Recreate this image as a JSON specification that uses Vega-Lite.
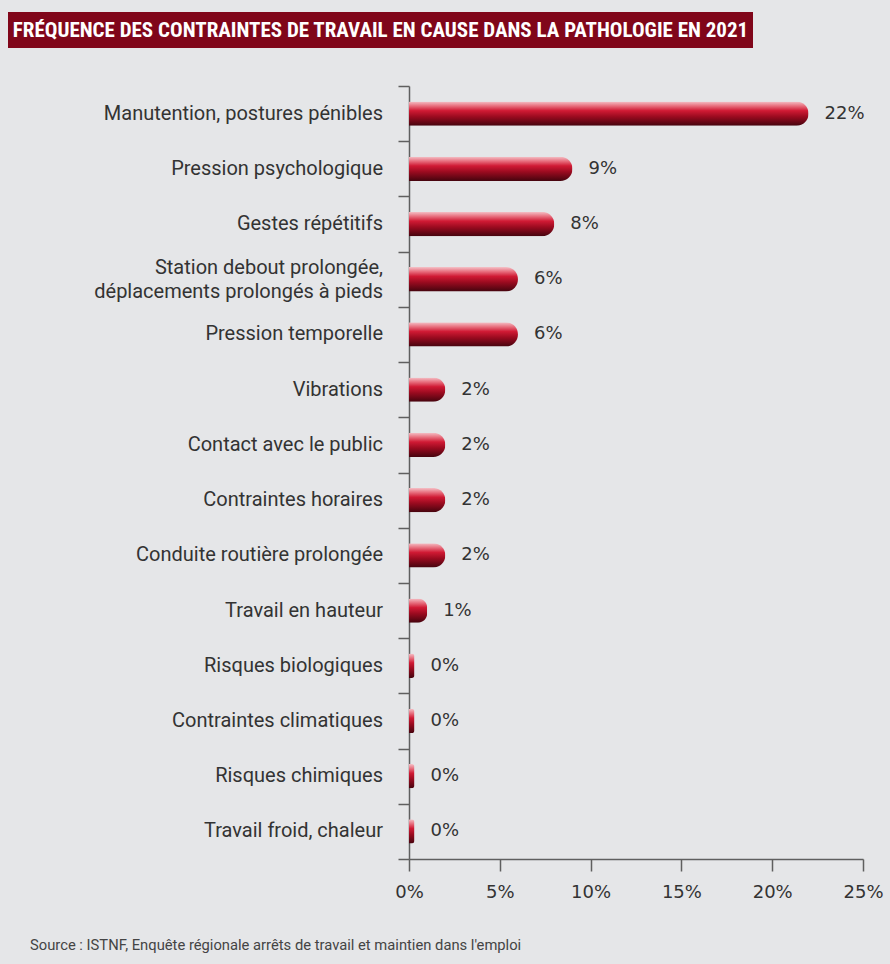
{
  "$schema": "https://vega.github.io/schema/vega-lite/v6.json",
  "background": "#e5e6e8",
  "padding": {"left": 8, "top": 12, "right": 6, "bottom": 20},
  "config": {"view": {"stroke": null}},
  "spacing": 32,
  "title": {
    "text": "Source : ISTNF, Enquête régionale arrêts de travail et maintien dans l'emploi",
    "orient": "bottom", "anchor": "start", "frame": "bounds", "dx": 22, "offset": 37,
    "font": "Roboto", "fontSize": 14.75, "fontWeight": "normal", "color": "#444444"
  },
  "vconcat": [
    {
      "width": 745, "height": 36,
      "view": {"fill": "#80061a", "stroke": null},
      "data": {"values": [{"t": "FRÉQUENCE DES CONTRAINTES DE TRAVAIL EN CAUSE DANS LA PATHOLOGIE EN 2021"}]},
      "mark": {"type": "text", "font": "Liberation Sans Narrow, Roboto Condensed, Roboto", "fontWeight": "bold", "fontSize": 21, "color": "#ffffff", "align": "center", "baseline": "middle", "dy": 1},
      "encoding": {"text": {"field": "t"}}
    },
    {
      "spacing": 0,
      "hconcat": [
        {
          "width": 1, "height": 1,
          "data": {"values": [{}]},
          "mark": {"type": "text"},
          "encoding": {"text": {"value": ""}}
        },
        {
          "width": 454, "height": 773,
          "data": {"values": [
            {"cat": "Manutention, postures pénibles", "v": 0.22},
            {"cat": "Pression psychologique", "v": 0.09},
            {"cat": "Gestes répétitifs", "v": 0.08},
            {"cat": "Station debout prolongée, déplacements prolongés à pieds", "v": 0.06},
            {"cat": "Pression temporelle", "v": 0.06},
            {"cat": "Vibrations", "v": 0.02},
            {"cat": "Contact avec le public", "v": 0.02},
            {"cat": "Contraintes horaires", "v": 0.02},
            {"cat": "Conduite routière prolongée", "v": 0.02},
            {"cat": "Travail en hauteur", "v": 0.01},
            {"cat": "Risques biologiques", "v": 0.003},
            {"cat": "Contraintes climatiques", "v": 0.003},
            {"cat": "Risques chimiques", "v": 0.003},
            {"cat": "Travail froid, chaleur", "v": 0.003}
          ]},
          "encoding": {
            "y": {
              "field": "cat", "type": "nominal", "sort": null, "title": null,
              "scale": {"paddingInner": 0, "paddingOuter": 0},
              "axis": {
                "minExtent": 400, "labels": false,
                "tickBand": "extent", "tickSize": 11,
                "domainColor": "#5f5f5f", "tickColor": "#5f5f5f", "domainWidth": 1.5, "tickWidth": 1.5
              }
            }
          },
          "layer": [
            {
              "mark": {
                "type": "bar", "height": {"band": 0.44}, "cornerRadiusEnd": 12,
                "color": {
                  "gradient": "linear", "x1": 0, "y1": 0, "x2": 0, "y2": 1,
                  "stops": [
                    {"offset": 0, "color": "#f4c0c6"},
                    {"offset": 0.18, "color": "#e8707f"},
                    {"offset": 0.38, "color": "#d01a34"},
                    {"offset": 0.62, "color": "#9c0b20"},
                    {"offset": 1, "color": "#45040e"}
                  ]
                }
              },
              "encoding": {
                "x": {
                  "field": "v", "type": "quantitative", "title": null,
                  "scale": {"domain": [0, 0.25], "nice": false},
                  "axis": {
                    "values": [0, 0.05, 0.1, 0.15, 0.2, 0.25], "format": ".0%", "grid": false,
                    "tickSize": 12, "labelPadding": 12,
                    "domainColor": "#5f5f5f", "tickColor": "#5f5f5f", "domainWidth": 1.5, "tickWidth": 1.5,
                    "labelFont": "DejaVu Sans", "labelFontSize": 18, "labelColor": "#333333", "labelFlush": false
                  }
                }
              }
            },
            {
              "mark": {"type": "text", "align": "left", "baseline": "middle", "dx": 16, "font": "DejaVu Sans", "fontSize": 18, "color": "#333333"},
              "encoding": {
                "x": {"field": "v", "type": "quantitative"},
                "text": {"field": "v", "type": "quantitative", "format": ".0%"}
              }
            },
            {
              "transform": [{"filter": "datum.cat != 'Station debout prolongée, déplacements prolongés à pieds'"}],
              "mark": {"type": "text", "align": "right", "baseline": "middle", "dx": -26, "font": "Roboto", "fontSize": 20, "color": "#333333"},
              "encoding": {
                "x": {"datum": 0, "type": "quantitative"},
                "text": {"field": "cat"}
              }
            },
            {
              "transform": [{"filter": "datum.cat == 'Station debout prolongée, déplacements prolongés à pieds'"}],
              "mark": {"type": "text", "align": "right", "baseline": "middle", "dx": -26, "dy": -11, "lineHeight": 24, "font": "Roboto", "fontSize": 20, "color": "#333333"},
              "encoding": {
                "x": {"datum": 0, "type": "quantitative"},
                "text": {"value": ["Station debout prolongée,", "déplacements prolongés à pieds"]}
              }
            }
          ]
        }
      ]
    }
  ]
}
